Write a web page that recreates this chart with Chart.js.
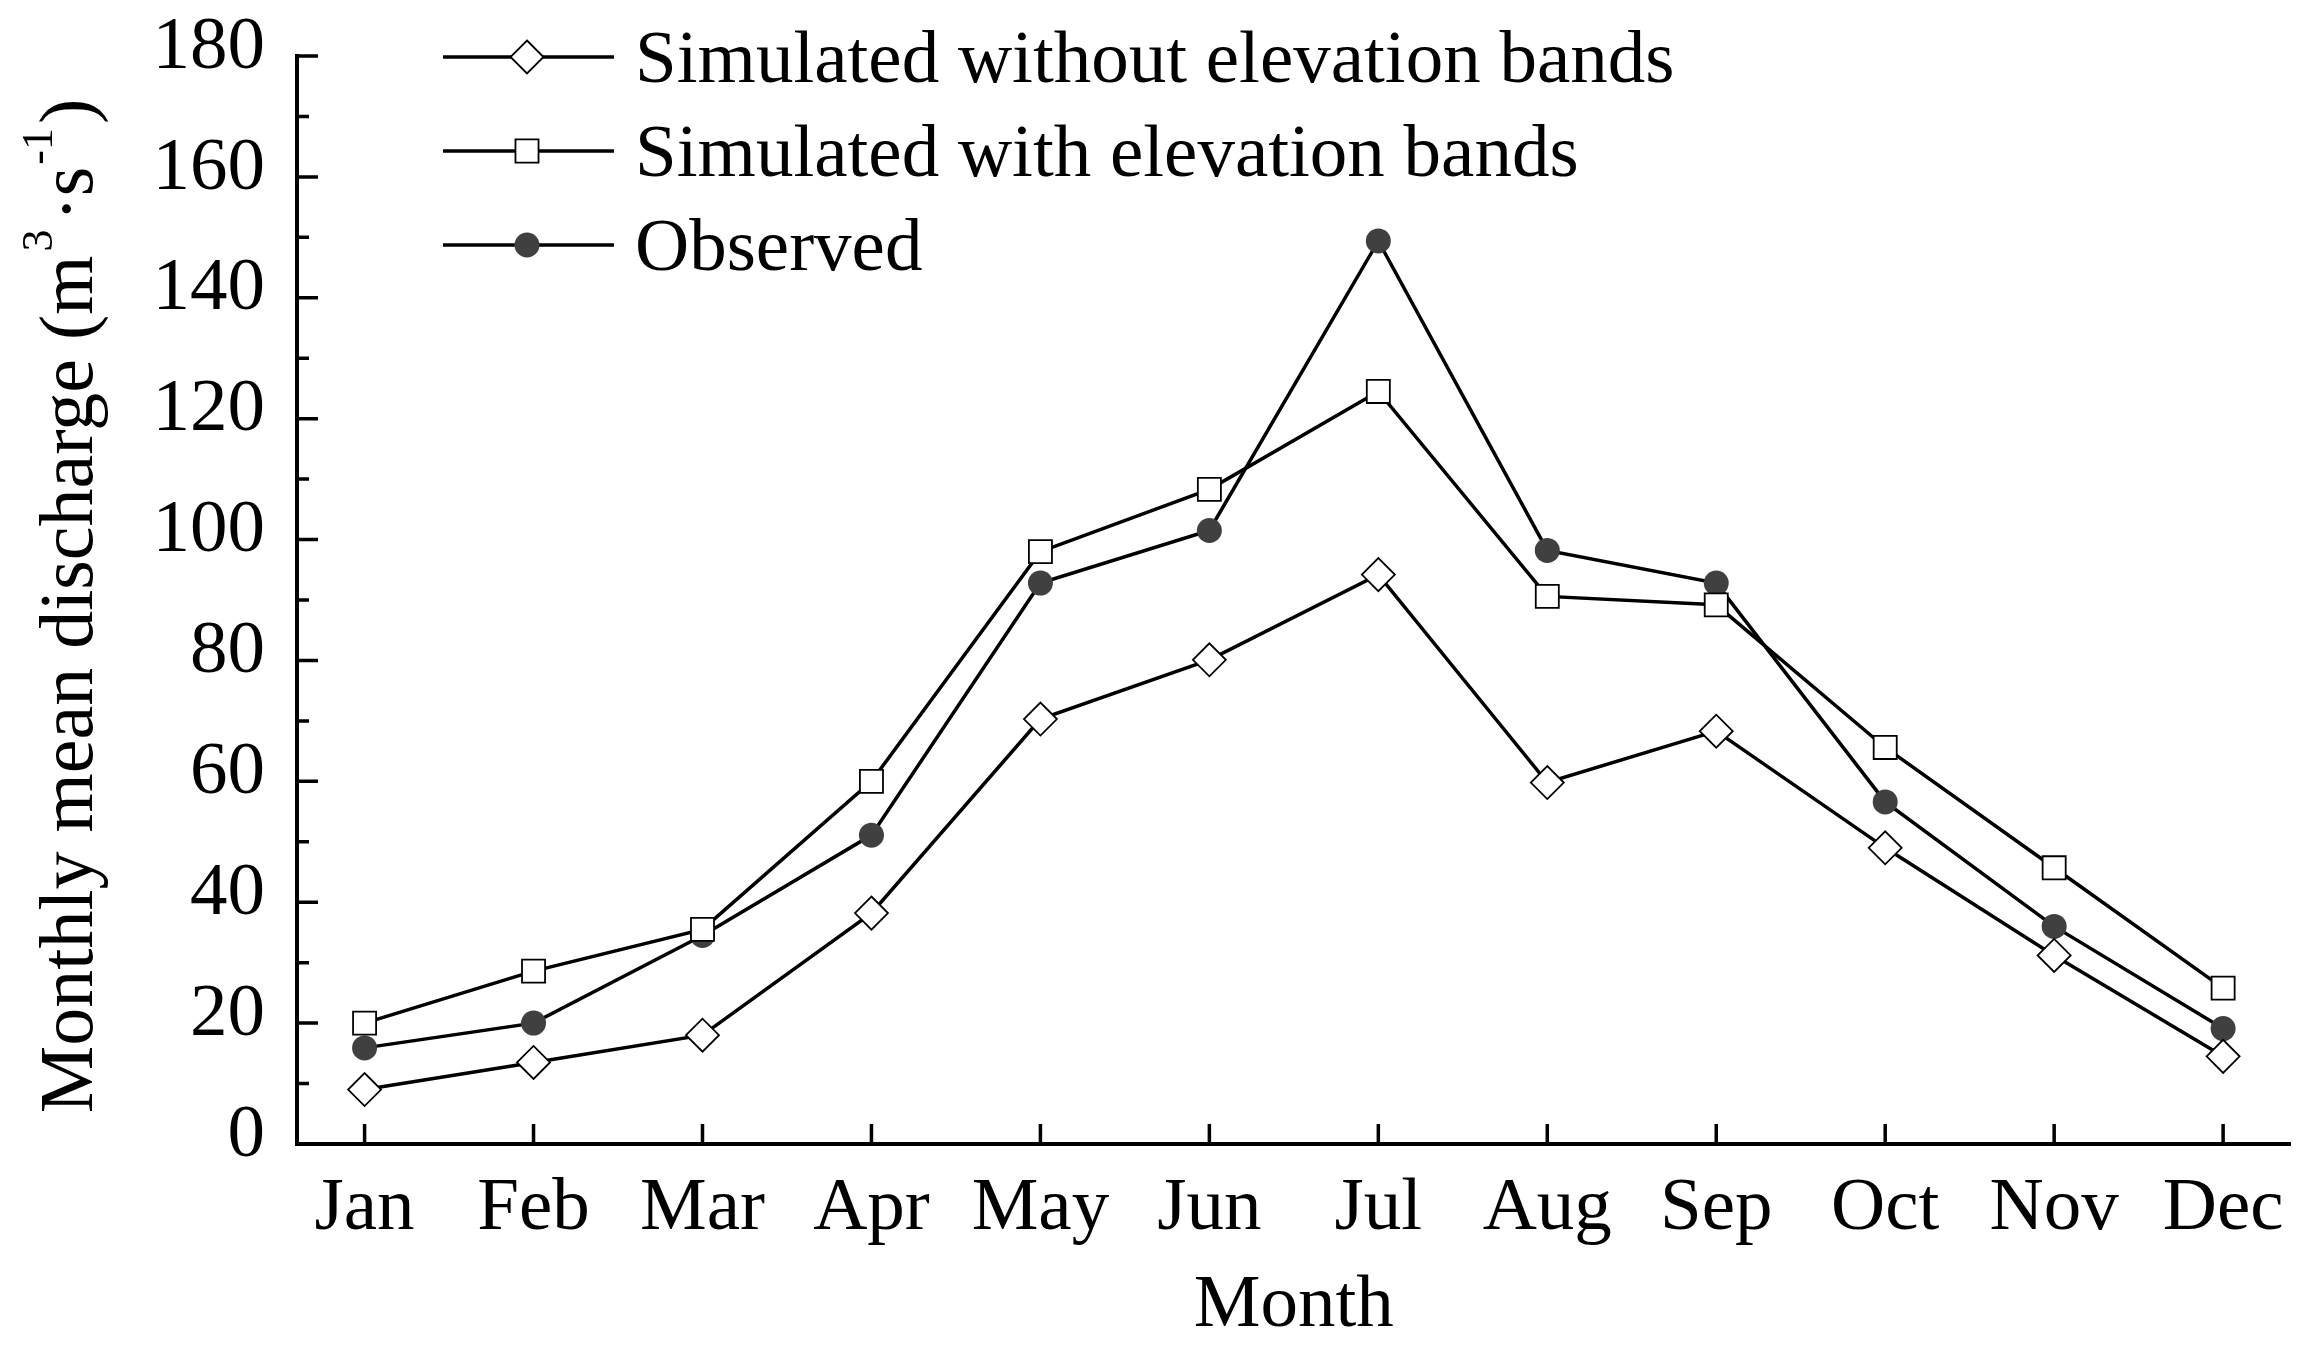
<!DOCTYPE html>
<html>
<head>
<meta charset="utf-8">
<script src="https://cdn.jsdelivr.net/npm/chart.js@4.4.1/dist/chart.umd.min.js"></script>
<style>
  html, body { margin: 0; padding: 0; background: #fff; }
  #wrap { width: 2309px; height: 1353px; position: relative; }
</style>
</head>
<body>
<div id="wrap"><canvas id="chart"></canvas></div>
<script>
// values (m3/s)
const months = ['Jan', 'Feb', 'Mar', 'Apr', 'May', 'Jun', 'Jul', 'Aug', 'Sep', 'Oct', 'Nov', 'Dec'];
const simNoBands = [9.0, 13.5, 18.0, 38.2, 70.3, 80.1, 94.2, 59.8, 68.3, 49.0, 31.2, 14.5];
const simBands = [20.0, 28.6, 35.5, 60.0, 98.0, 108.3, 124.5, 90.6, 89.2, 65.6, 45.7, 25.8];
const observed = [15.9, 20.0, 34.5, 51.1, 92.8, 101.5, 149.4, 98.2, 92.8, 56.6, 36.0, 19.1];
const yTicks = [0, 20, 40, 60, 80, 100, 120, 140, 160, 180];
const yMinorTicks = [10, 30, 50, 70, 90, 110, 130, 150, 170];

const serif = "'Liberation Serif', 'Times New Roman', serif";

function toPoints(values) {
    return values.map((v, i) => ({x: i, y: v}));
}

// ticks pointing inward, like the original plot
const tickMarks = {
    id: 'tickMarks',
    beforeDatasetsDraw(chart) {
        const ctx = chart.ctx;
        const xs = chart.scales.x, ys = chart.scales.y;
        ctx.save();
        ctx.strokeStyle = '#000';
        ctx.lineWidth = 3.5;
        ctx.beginPath();
        yTicks.forEach(v => {
            const py = ys.getPixelForValue(v);
            ctx.moveTo(xs.left, py);
            ctx.lineTo(xs.left + 21, py);
        });
        yMinorTicks.forEach(v => {
            const py = ys.getPixelForValue(v);
            ctx.moveTo(xs.left, py);
            ctx.lineTo(xs.left + 12, py);
        });
        months.forEach((m, i) => {
            const px = xs.getPixelForValue(i);
            ctx.moveTo(px, ys.bottom);
            ctx.lineTo(px, ys.bottom - 20);
        });
        ctx.stroke();
        ctx.restore();
    }
};

function marker(ctx, ds, x, y) {
    const r = ds.pointRadius;
    ctx.fillStyle = ds.pointBackgroundColor;
    ctx.strokeStyle = ds.pointBorderColor;
    ctx.lineWidth = ds.pointBorderWidth;
    ctx.beginPath();
    if (ds.pointStyle === 'rectRot') {
        ctx.moveTo(x, y - r); ctx.lineTo(x + r, y); ctx.lineTo(x, y + r); ctx.lineTo(x - r, y);
        ctx.closePath();
    } else if (ds.pointStyle === 'rect') {
        const h = r * Math.SQRT1_2;
        ctx.rect(x - h, y - h, 2 * h, 2 * h);
    } else {
        ctx.arc(x, y, r, 0, Math.PI * 2);
    }
    ctx.fill();
    if (ds.pointBorderWidth > 0) ctx.stroke();
}

// legend drawn inside the plot: line + marker + label
const lineLegend = {
    id: 'lineLegend',
    afterDraw(chart) {
        const ctx = chart.ctx, area = chart.chartArea;
        ctx.save();
        chart.data.datasets.forEach((ds, i) => {
            const y = area.top + 1 + i * 94;
            ctx.strokeStyle = '#000';
            ctx.lineWidth = 3.5;
            ctx.beginPath();
            ctx.moveTo(area.left + 146, y);
            ctx.lineTo(area.left + 317, y);
            ctx.stroke();
            marker(ctx, ds, area.left + 230, y);
            ctx.fillStyle = '#000';
            ctx.font = '75px ' + serif;
            ctx.textBaseline = 'alphabetic';
            ctx.textAlign = 'left';
            ctx.fillText(ds.label, area.left + 338, y + 25);
        });
        ctx.restore();
    }
};

// y title with superscripts
const yTitle = {
    id: 'yTitle',
    afterDraw(chart) {
        const ctx = chart.ctx, area = chart.chartArea;
        const main = '76px ' + serif, sup = '44px ' + serif;
        const parts = [
            ['Monthly mean discharge (m', main, 0, 0],
            ['3', sup, 4, -40],
            ['\u00b7s', main, 8, 0],
            ['-1', sup, 2, -40],
            [')', main, 4, 0]
        ];
        ctx.save();
        let total = 0;
        parts.forEach(p => { ctx.font = p[1]; total += p[2] + ctx.measureText(p[0]).width; });
        ctx.translate(92, (area.top + area.bottom) / 2 + 6);
        ctx.rotate(-Math.PI / 2);
        ctx.fillStyle = '#000';
        ctx.textBaseline = 'alphabetic';
        ctx.textAlign = 'left';
        let x = -total / 2;
        parts.forEach(p => {
            ctx.font = p[1];
            x += p[2];
            ctx.fillText(p[0], x, p[3]);
            x += ctx.measureText(p[0]).width;
        });
        ctx.restore();
    }
};

const ctx = document.getElementById('chart').getContext('2d');
new Chart(ctx, {
    type: 'line',
    data: {
        datasets: [{
            label: 'Simulated without elevation bands',
            data: toPoints(simNoBands),
            borderColor: '#000',
            borderWidth: 3.5,
            pointStyle: 'rectRot',
            pointRadius: 16.5,
            pointBackgroundColor: '#fff',
            pointBorderColor: '#000',
            pointBorderWidth: 1.8,
            tension: 0
        }, {
            label: 'Simulated with elevation bands',
            data: toPoints(simBands),
            borderColor: '#000',
            borderWidth: 3.5,
            pointStyle: 'rect',
            pointRadius: 16.3,
            pointBackgroundColor: '#fff',
            pointBorderColor: '#000',
            pointBorderWidth: 1.8,
            tension: 0
        }, {
            label: 'Observed',
            data: toPoints(observed),
            borderColor: '#000',
            borderWidth: 3.5,
            pointStyle: 'circle',
            pointRadius: 12.5,
            pointBackgroundColor: '#404040',
            pointBorderColor: '#404040',
            pointBorderWidth: 0,
            tension: 0
        }]
    },
    options: {
        responsive: true,
        maintainAspectRatio: false,
        devicePixelRatio: 1,
        animation: false,
        layout: {padding: {left: 0, right: 14, top: 56, bottom: 0}},
        plugins: {
            legend: {display: false},
            tooltip: {enabled: false}
        },
        scales: {
            x: {
                type: 'linear',
                min: -0.4,
                max: 11.4,
                afterBuildTicks: s => { s.ticks = months.map((m, i) => ({value: i})); },
                afterFit: s => { s.height = 209; s.paddingLeft = 0; s.paddingRight = 0; },
                grid: {display: false, drawTicks: false},
                border: {display: true, color: '#000', width: 4},
                ticks: {
                    callback: v => months[v],
                    font: {family: serif, size: 75},
                    color: '#000',
                    padding: 20,
                    maxRotation: 0,
                    autoSkip: false
                },
                title: {
                    display: true,
                    text: 'Month',
                    font: {family: serif, size: 75},
                    color: '#000',
                    padding: {top: 0, bottom: 2}
                }
            },
            y: {
                min: 0,
                max: 180,
                afterBuildTicks: s => { s.ticks = yTicks.map(v => ({value: v})); },
                afterFit: s => { s.width = 297; s.paddingTop = 0; s.paddingBottom = 0; },
                grid: {display: false, drawTicks: false},
                border: {display: true, color: '#000', width: 4},
                ticks: {
                    font: {family: serif, size: 75},
                    color: '#000',
                    padding: 32,
                    labelOffset: -8
                }
            }
        }
    },
    plugins: [tickMarks, lineLegend, yTitle]
});
</script>
</body>
</html>
